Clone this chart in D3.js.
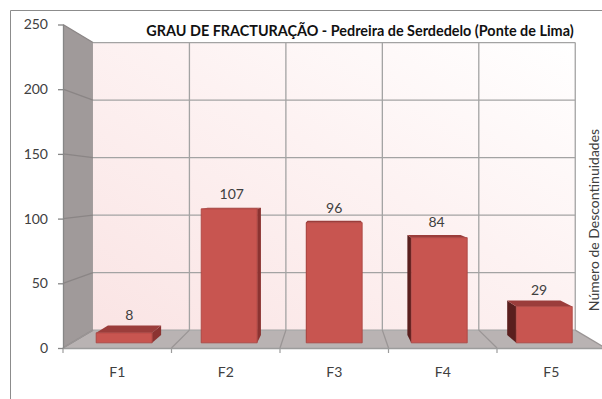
<!DOCTYPE html>
<html>
<head>
<meta charset="utf-8">
<script src="https://cdn.jsdelivr.net/npm/d3@7"></script>
<style>
  html, body { margin: 0; padding: 0; background: #fff; }
  svg { display: block; }
  text { font-family: Lato, "Open Sans", sans-serif; fill: #404040; }
</style>
</head>
<body>
<svg id="chart" width="602" height="399"></svg>
<script>
// Fracture classes and number of discontinuities counted in each
const categories = ["F1", "F2", "F3", "F4", "F5"];
const values = [8, 107, 96, 84, 29];
const yTicks = [0, 50, 100, 150, 200, 250];
const title = "GRAU DE FRACTURAÇÃO - Pedreira de Serdedelo (Ponte de Lima)";
const yTitle = "Número de Descontinuidades";

const svg = d3.select("#chart");
const W = 602, H = 399;

// Front plane scales
const x = d3.scaleBand().domain(categories).range([63, 605.5]).padding(0);
const y = d3.scaleLinear().domain([0, 250]).range([348, 24.5]);

// Simple perspective: points are pulled toward a vanishing centre by depth factor k
const VP = { x: 333, y: 187 };
const K_WALL = 0.889;   // back wall
const K_BAR_F = 0.968;  // bar front faces
const K_BAR_B = 0.92;   // bar back faces
const proj = (px, py, k) => [VP.x + k * (px - VP.x), VP.y + k * (py - VP.y)];
const poly = pts => "M" + pts.map(p => p.join(",")).join("L") + "Z";

const defs = svg.append("defs");
const grad = defs.append("linearGradient").attr("id", "wallFill")
  .attr("x1", 0).attr("y1", 1).attr("x2", 1).attr("y2", 0);
grad.append("stop").attr("offset", "0%").attr("stop-color", "#fae4e4");
grad.append("stop").attr("offset", "55%").attr("stop-color", "#fdf2f2");
grad.append("stop").attr("offset", "100%").attr("stop-color", "#ffffff");

// Outer chart border
svg.append("path")
  .attr("d", `M10.5,${H}V10.5H${W}`)
  .attr("fill", "none").attr("stroke", "#8c8c8c").attr("stroke-width", 1);

const x0 = x.range()[0], x1 = x.range()[1];
const yTop = y(250), yBase = y(0);

// Back wall
svg.append("path")
  .attr("d", poly([proj(x0, yTop, K_WALL), proj(x1, yTop, K_WALL), proj(x1, yBase, K_WALL), proj(x0, yBase, K_WALL)]))
  .attr("fill", "url(#wallFill)");

// Side wall
svg.append("path")
  .attr("d", poly([[x0, yTop], proj(x0, yTop, K_WALL), proj(x0, yBase, K_WALL), [x0, yBase]]))
  .attr("fill", "#a09a9a");

// Floor
svg.append("path")
  .attr("d", poly([[x0, yBase], proj(x0, yBase, K_WALL), proj(x1, yBase, K_WALL), [x1, yBase]]))
  .attr("fill", "#b9b3b3");

const gridColor = "#a3a3a3";
const grid = svg.append("g").attr("fill", "none").attr("stroke", gridColor).attr("stroke-width", 1.3);

// Horizontal gridlines on the back wall and the side wall
yTicks.forEach(v => {
  const a = proj(x0, y(v), K_WALL), b = proj(x1, y(v), K_WALL);
  grid.append("line").attr("x1", a[0]).attr("y1", a[1]).attr("x2", b[0]).attr("y2", b[1]);
  grid.append("line").attr("x1", x0).attr("y1", y(v)).attr("x2", a[0]).attr("y2", a[1])
    .attr("stroke", "#8a8585");
});

// Category boundaries: verticals on the back wall and lines across the floor
const bounds = categories.map(c => x(c)).concat([x1]);
bounds.forEach((bx, i) => {
  const top = proj(bx, yTop, K_WALL), bot = proj(bx, yBase, K_WALL);
  if (i > 0) {
    grid.append("line").attr("x1", top[0]).attr("y1", top[1]).attr("x2", bot[0]).attr("y2", bot[1]);
  }
  grid.append("line").attr("x1", bot[0]).attr("y1", bot[1]).attr("x2", bx).attr("y2", yBase)
    .attr("stroke", "#9a9595");
});

// Front floor edge with category ticks
svg.append("line").attr("x1", x0).attr("y1", yBase + 0.5).attr("x2", x1).attr("y2", yBase + 0.5)
  .attr("stroke", "#9c9c9c").attr("stroke-width", 1.5);
bounds.forEach(bx => {
  svg.append("line").attr("x1", bx).attr("y1", yBase).attr("x2", bx).attr("y2", yBase + 5)
    .attr("stroke", "#9c9c9c").attr("stroke-width", 1.2);
});

// Y axis
const yAxis = svg.append("g")
  .attr("transform", `translate(${x0},0)`)
  .call(d3.axisLeft(y).tickValues(yTicks).tickSize(5).tickPadding(10).tickSizeOuter(0));
yAxis.select(".domain").attr("stroke", "#868686").attr("stroke-width", 1.3);
yAxis.selectAll(".tick line").attr("stroke", "#868686").attr("stroke-width", 1.3);
yAxis.selectAll(".tick text").style("font-size", "14px").attr("fill", "#404040")
  .style("font-family", "Lato, 'Open Sans', sans-serif");

// X axis labels
const xAxis = svg.append("g")
  .attr("transform", `translate(0,${yBase})`)
  .call(d3.axisBottom(x).tickSize(0).tickPadding(19));
xAxis.select(".domain").remove();
xAxis.selectAll(".tick text").style("font-size", "14px").attr("fill", "#404040")
  .style("font-family", "Lato, 'Open Sans', sans-serif");

// 3D bars
const barFrac = 0.533;
const bars = categories.map((c, i) => {
  const bw = x.bandwidth() * barFrac;
  const xl = x(c) + (x.bandwidth() - bw) / 2, xr = xl + bw;
  return { c, v: values[i], xl, xr, xc: (xl + xr) / 2 };
});
const gBars = svg.append("g");
bars.forEach(b => {
  const yv = y(b.v);
  const g = gBars.append("g");
  const sx = b.xc < VP.x ? b.xr : b.xl;
  const sideColor = b.xc < VP.x ? "#8b3331" : "#5a1f1e";
  // side face
  g.append("path")
    .attr("d", poly([proj(sx, yBase, K_BAR_F), proj(sx, yv, K_BAR_F), proj(sx, yv, K_BAR_B), proj(sx, yBase, K_BAR_B)]))
    .attr("fill", sideColor);
  // top face
  g.append("path")
    .attr("d", poly([proj(b.xl, yv, K_BAR_F), proj(b.xr, yv, K_BAR_F), proj(b.xr, yv, K_BAR_B), proj(b.xl, yv, K_BAR_B)]))
    .attr("fill", "#9b3d3b");
  // front face
  g.append("path")
    .attr("d", poly([proj(b.xl, yBase, K_BAR_F), proj(b.xr, yBase, K_BAR_F), proj(b.xr, yv, K_BAR_F), proj(b.xl, yv, K_BAR_F)]))
    .attr("fill", "#c85550").attr("stroke", "#a8413e").attr("stroke-width", 0.8);

  // value label above the centre of the top face
  const f = proj(b.xc, yv, K_BAR_F), k = proj(b.xc, yv, K_BAR_B);
  svg.append("text")
    .attr("x", (f[0] + k[0]) / 2)
    .attr("y", (f[1] + k[1]) / 2 - 14.5)
    .attr("text-anchor", "middle").attr("dominant-baseline", "central")
    .style("font-size", "14px")
    .text(b.v);
});

// Title
svg.append("text")
  .attr("x", 360).attr("y", 36)
  .attr("text-anchor", "middle")
  .style("font-size", "14.4px").style("font-weight", "bold")
  .style("fill", "#111")
  .text(title);

// Vertical axis title
svg.append("text")
  .attr("transform", "translate(593,220) rotate(-90)")
  .attr("text-anchor", "middle").attr("dominant-baseline", "central")
  .style("font-size", "14px")
  .text(yTitle);
</script>
</body>
</html>
